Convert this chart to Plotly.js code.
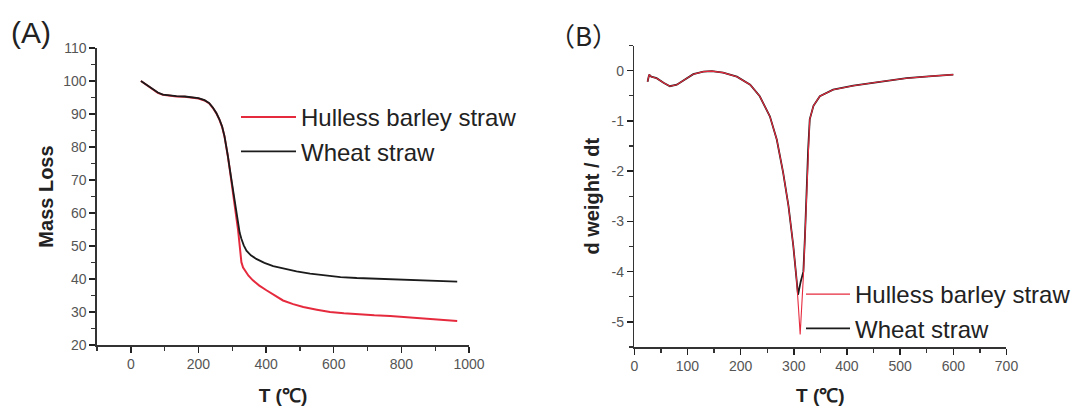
<!DOCTYPE html>
<html>
<head>
<meta charset="utf-8">
<script src="https://cdn.plot.ly/plotly-3.0.1.min.js"></script>
<style>html,body{margin:0;padding:0;background:#fff;}#chart{width:1082px;height:406px;}</style>
</head>
<body>
<div id="chart"></div>
<script>
// ---- Panel A: TGA (mass loss vs temperature) ----
const tgaT_hulless = [30, 45, 60, 80, 95, 115, 135, 160, 183, 200, 218, 232, 243, 253, 262, 270, 277, 282, 287, 292, 297, 302, 307, 312, 317, 322, 327, 332, 337, 348, 361, 380, 401, 425, 450, 480, 510, 550, 589, 630, 668, 720, 767, 820, 870, 920, 965];
const tgaMass_hulless = [100, 99, 97.9, 96.4, 95.8, 95.5, 95.3, 95.2, 95.0, 94.7, 94.1, 93.2, 91.8, 90.2, 88.3, 86.1, 83.2, 80.5, 77.2, 73.7, 70.2, 66.6, 63.0, 59.2, 55.0, 50.1, 45.1, 43.5, 42.6, 41.0, 39.6, 38.0, 36.6, 35.0, 33.5, 32.4, 31.5, 30.7, 30.0, 29.6, 29.3, 29.0, 28.8, 28.4, 28.0, 27.7, 27.3];
const tgaT_wheat = [30, 45, 60, 80, 95, 115, 135, 160, 183, 200, 218, 232, 243, 253, 262, 270, 277, 282, 287, 292, 297, 302, 307, 312, 317, 322, 327, 334, 342, 355, 371, 395, 421, 455, 490, 530, 569, 620, 668, 720, 767, 820, 870, 920, 965];
const tgaMass_wheat = [100, 99, 97.9, 96.5, 95.9, 95.6, 95.4, 95.3, 95.1, 94.8, 94.2, 93.3, 91.9, 90.3, 88.4, 86.2, 83.3, 80.6, 77.3, 73.8, 70.3, 66.7, 63.2, 59.6, 56.2, 54.0, 52.2, 50.2, 48.6, 47.2, 46.1, 44.9, 43.9, 43.0, 42.3, 41.6, 41.1, 40.6, 40.3, 40.1, 39.9, 39.7, 39.5, 39.3, 39.2];

// ---- Panel B: DTG (d weight / dt vs temperature) ----
const dtgT_hulless = [25, 28, 32, 42, 55, 67, 80, 95, 111, 130, 146, 167, 193, 218, 236, 255, 268, 280, 290, 299, 305, 309, 312, 318, 321, 324, 327, 330, 337, 349, 374, 412, 462, 512, 560, 600];
const dtg_hulless = [-0.22, -0.08, -0.12, -0.15, -0.24, -0.31, -0.28, -0.17, -0.07, -0.02, -0.01, -0.04, -0.12, -0.28, -0.51, -0.91, -1.37, -2.03, -2.69, -3.48, -4.13, -4.75, -5.25, -4.1, -3.3, -2.37, -1.57, -0.97, -0.70, -0.51, -0.38, -0.30, -0.22, -0.15, -0.11, -0.08];
const dtgT_wheat = [25, 28, 32, 42, 55, 67, 80, 95, 111, 130, 146, 167, 193, 218, 236, 255, 268, 280, 290, 299, 305, 308, 313, 318, 321, 324, 327, 330, 337, 349, 374, 412, 462, 512, 560, 600];
const dtg_wheat = [-0.22, -0.08, -0.12, -0.15, -0.24, -0.31, -0.28, -0.17, -0.07, -0.02, -0.01, -0.04, -0.12, -0.28, -0.51, -0.91, -1.37, -2.03, -2.69, -3.48, -4.13, -4.46, -4.2, -4.0, -3.3, -2.37, -1.57, -0.97, -0.70, -0.51, -0.38, -0.30, -0.22, -0.15, -0.11, -0.08];

// ---- names & tick labels ----
const seriesNames = ['Hulless barley straw', 'Wheat straw'];
const tickValsA_x = [0, 200, 400, 600, 800, 1000];
const tickTextA_x = ['0', '200', '400', '600', '800', '1000'];
const minorValsA_x = [-100, 100, 300, 500, 700, 900];
const tickValsA_y = [20, 30, 40, 50, 60, 70, 80, 90, 100, 110];
const tickTextA_y = ['20', '30', '40', '50', '60', '70', '80', '90', '100', '110'];
const minorValsA_y = [25, 35, 45, 55, 65, 75, 85, 95, 105];
const tickValsB_x = [0, 100, 200, 300, 400, 500, 600, 700];
const tickTextB_x = ['0', '100', '200', '300', '400', '500', '600', '700'];
const minorValsB_x = [50, 150, 250, 350, 450, 550, 650];
const tickValsB_y = [0, -1, -2, -3, -4, -5];
const tickTextB_y = ['0', '-1', '-2', '-3', '-4', '-5'];
const minorValsB_y = [0.5, -0.5, -1.5, -2.5, -3.5, -4.5, -5.5];

const RED = '#e62a3e';
const BLACK = '#1b1b1b';
const FONT = 'Liberation Sans, Arial, sans-serif';

const traces = [
  {x: tgaT_hulless, y: tgaMass_hulless, type: 'scatter', mode: 'lines', name: seriesNames[0],
   line: {color: RED, width: 2}, xaxis: 'x', yaxis: 'y', legend: 'legend'},
  {x: tgaT_wheat, y: tgaMass_wheat, type: 'scatter', mode: 'lines', name: seriesNames[1],
   line: {color: BLACK, width: 1.8}, xaxis: 'x', yaxis: 'y', legend: 'legend'},
  {x: dtgT_wheat, y: dtg_wheat, type: 'scatter', mode: 'lines', name: seriesNames[1],
   line: {color: BLACK, width: 1.8}, xaxis: 'x2', yaxis: 'y2', legend: 'legend2', legendrank: 2},
  {x: dtgT_hulless, y: dtg_hulless, type: 'scatter', mode: 'lines', name: seriesNames[0],
   line: {color: RED, width: 1.1}, xaxis: 'x2', yaxis: 'y2', legend: 'legend2', legendrank: 1}
];

const axisCommon = {
  showline: true, linecolor: '#333', linewidth: 1.5, mirror: false,
  showgrid: false, zeroline: false, automargin: false,
  ticks: 'outside', ticklen: 6, tickwidth: 1.5, tickcolor: '#222',
  tickfont: {family: FONT, size: 14, color: '#555'},
  fixedrange: true
};
const minorTick = (vals) => ({tickmode: 'array', tickvals: vals, ticks: 'outside', ticklen: 4, tickwidth: 1.3, tickcolor: '#333', showgrid: false});

const layout = {
  width: 1082, height: 406,
  margin: {l: 0, r: 0, t: 0, b: 0},
  paper_bgcolor: '#fff', plot_bgcolor: '#fff',
  font: {family: FONT, color: '#222'},
  showlegend: true,
  xaxis: Object.assign({}, axisCommon, {
    domain: [0.0896, 0.4335], range: [-100, 1000], anchor: 'y',
    tickmode: 'array', tickvals: tickValsA_x, ticktext: tickTextA_x,
    minor: minorTick(minorValsA_x),
    title: {text: '<b>T (℃)</b>', font: {family: FONT, size: 19, color: '#222'}, standoff: 17}
  }),
  yaxis: Object.assign({}, axisCommon, {
    domain: [0.1502, 0.8818], range: [20, 110], anchor: 'x',
    tickmode: 'array', tickvals: tickValsA_y, ticktext: tickTextA_y,
    minor: minorTick(minorValsA_y),
    title: {text: '<b>Mass Loss</b>', font: {family: FONT, size: 20, color: '#222'}, standoff: 4}
  }),
  xaxis2: Object.assign({}, axisCommon, {
    domain: [0.5862, 0.9302], range: [0, 700], anchor: 'y2',
    tickmode: 'array', tickvals: tickValsB_x, ticktext: tickTextB_x,
    minor: minorTick(minorValsB_x),
    title: {text: '<b>T (℃)</b>', font: {family: FONT, size: 19, color: '#222'}, standoff: 17}
  }),
  yaxis2: Object.assign({}, axisCommon, {
    domain: [0.1453, 0.8879], range: [-5.5, 0.5], anchor: 'x2',
    tickmode: 'array', tickvals: tickValsB_y, ticktext: tickTextB_y,
    minor: minorTick(minorValsB_y),
    title: {text: '<b>d weight / dt</b>', font: {family: FONT, size: 20, color: '#222'}, standoff: 6}
  }),
  legend: {
    x: 236 / 1082, y: (406 - 95) / 406, xanchor: 'left', yanchor: 'top',
    bgcolor: 'rgba(0,0,0,0)', borderwidth: 0, itemwidth: 55,
    font: {family: FONT, size: 24, color: '#222'}, traceorder: 'normal'
  },
  legend2: {
    x: 801 / 1082, y: (406 - 272) / 406, xanchor: 'left', yanchor: 'top',
    bgcolor: 'rgba(0,0,0,0)', borderwidth: 0, itemwidth: 44,
    font: {family: FONT, size: 24, color: '#222'}, traceorder: 'normal'
  },
  annotations: [
    {text: '(A)', xref: 'paper', yref: 'paper', x: 31 / 1082, y: (406 - 32) / 406,
     xanchor: 'center', yanchor: 'middle', showarrow: false,
     font: {family: FONT, size: 30, color: '#222'}},
    {text: '（B）', xref: 'paper', yref: 'paper', x: 583 / 1082, y: (406 - 34) / 406,
     xanchor: 'center', yanchor: 'middle', showarrow: false,
     font: {family: 'Noto Sans CJK SC, sans-serif', size: 26, color: '#222'}}
  ]
};

Plotly.newPlot('chart', traces, layout, {staticPlot: true, displayModeBar: false});
</script>
</body>
</html>
